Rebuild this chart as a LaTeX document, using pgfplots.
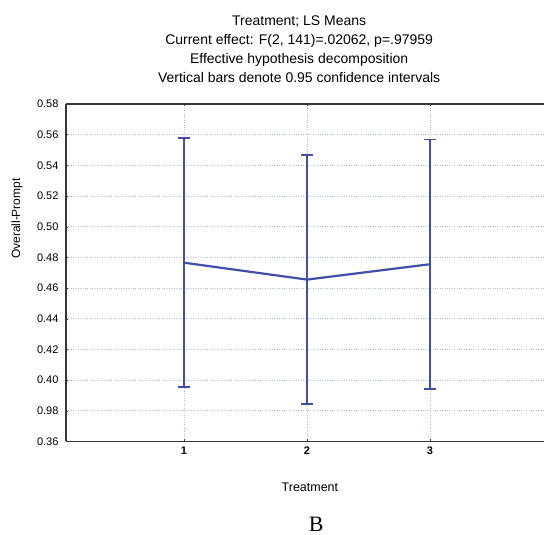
\documentclass[border=0pt]{standalone}
\usepackage{fontspec}
\setmainfont{Liberation Sans}
\newfontfamily\seriffont{Liberation Serif}
\usepackage{pgfplots}
\pgfplotsset{compat=1.18}
\definecolor{lineblue}{RGB}{66,78,168}
\definecolor{gridc}{RGB}{175,190,212}
\definecolor{framec}{RGB}{55,55,55}
\begin{document}
\begin{tikzpicture}
\begin{axis}[
  scale only axis, width=479pt, height=338pt,
  xmin=0.04, xmax=3.93, ymin=0.36, ymax=0.58,
  axis x line*=box, axis y line*=left,
  axis line style={framec, line width=1.3pt},
  /pgf/number format/assume math mode=true,
  xtick={1,2,3},
  xticklabels={1,2,3},
  ytick={0.36,0.38,0.40,0.42,0.44,0.46,0.48,0.50,0.52,0.54,0.56,0.58},
  yticklabels={0.36,0.98,0.40,0.42,0.44,0.46,0.48,0.50,0.52,0.54,0.56,0.58},
  xticklabel style={font=\fontsize{11}{12}\selectfont\bfseries, yshift=-2pt},
  yticklabel style={font=\fontsize{11}{12}\selectfont, xshift=-4pt},
  tick align=inside, major tick length=2pt, tick style={framec},
  grid=major, grid style={dotted, gridc, line width=0.6pt},
  xlabel={Treatment}, ylabel={Overall-Prompt},
  xlabel style={at={(axis description cs:0.51,0)}, anchor=center, yshift=-46pt, font=\fontsize{12.5}{14}\selectfont},
  ylabel style={at={(axis description cs:-0.1023,0.66)}, anchor=center, font=\fontsize{12}{14}\selectfont},
]
\addplot[lineblue, line width=2.2pt, no markers,
  error bars/.cd, y dir=both, y explicit,
  error bar style={lineblue, line width=1.7pt},
  error mark options={lineblue, line width=1.7pt, mark size=6pt, rotate=90}]
  coordinates {
  (1,0.4765) +- (0,0.0811)
  (2,0.4655) +- (0,0.0812)
  (3,0.4755) +- (0,0.0812)
};
\end{axis}
\node[align=center, font=\fontsize{14}{19}\selectfont, anchor=south] at ([xshift=-6pt, yshift=18pt]current axis.north) {Treatment; LS Means\\Current effect: F(2, 141)=.02062, p=.97959\\Effective hypothesis decomposition\\Vertical bars denote 0.95 confidence intervals};
\node[font=\seriffont\fontsize{22}{24}\selectfont] at ([xshift=11pt, yshift=-83pt]current axis.south) {B};
\path[use as bounding box] ([xshift=-66pt, yshift=-93pt]current axis.south west) rectangle ([yshift=104pt]current axis.north east);
\end{tikzpicture}
\end{document}
